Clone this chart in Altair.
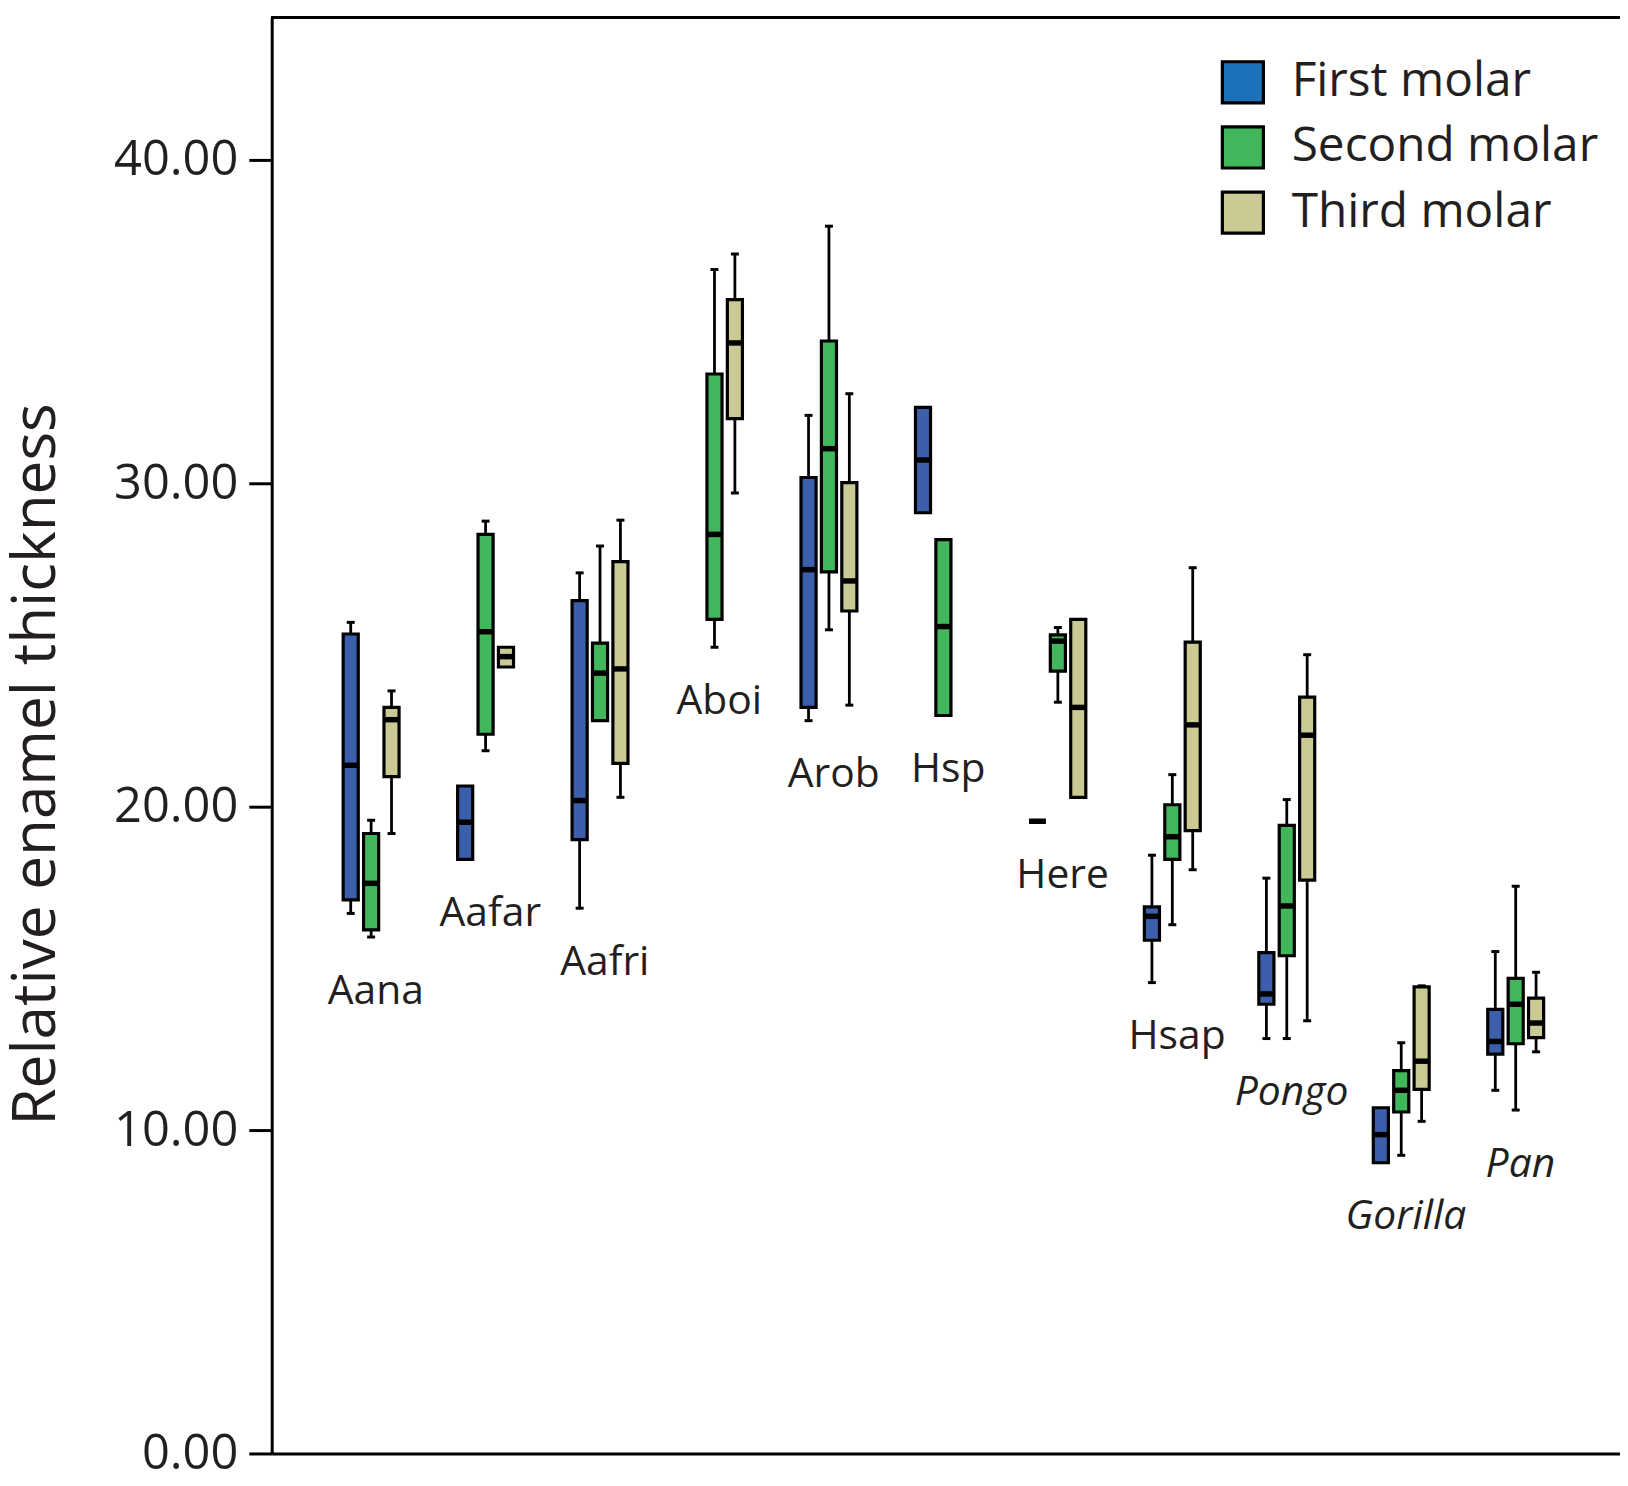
import altair as alt
import pandas as pd

taxa = ["Aana", "Aafar", "Aafri", "Aboi", "Arob", "Hsp", "Here", "Hsap", "Pongo", "Gorilla", "Pan"]
italic_taxa = ["Pongo", "Gorilla", "Pan"]
molars = ["First molar", "Second molar", "Third molar"]
box_colors = ["#3b5fab", "#41b65a", "#cbca95"]
legend_colors = ["#1b71ba", "#41b65a", "#cbca95"]

F, S, T = molars
row_taxon = ["Aana", "Aana", "Aana", "Aafar", "Aafar", "Aafar", "Aafri", "Aafri", "Aafri",
             "Aboi", "Aboi", "Arob", "Arob", "Arob", "Hsp", "Hsp", "Here", "Here", "Here",
             "Hsap", "Hsap", "Hsap", "Pongo", "Pongo", "Pongo", "Gorilla", "Gorilla", "Gorilla",
             "Pan", "Pan", "Pan"]
row_molar = [F, S, T, F, S, T, F, S, T,
             S, T, F, S, T, F, S, F, S, T,
             F, S, T, F, S, T, F, S, T,
             F, S, T]
whisker_low = [16.70, 15.97, 19.17, None, 21.73, None, 16.86, None, 20.29,
               24.93, 29.70, 22.66, 25.47, 23.14, None, None, None, 23.23, None,
               14.56, 16.35, 18.05, 12.83, 12.83, 13.38, None, 9.22, 10.27,
               11.23, 10.62, 12.42]
q1 = [17.12, 16.19, 20.93, 18.37, 22.24, 24.32, 18.98, 22.66, 21.34,
      25.79, 32.00, 23.07, 27.26, 26.05, 29.09, 22.82, 19.55, 24.19, 20.29,
      15.87, 18.37, 19.26, 13.89, 15.39, 17.73, 8.99, 10.56, 11.26,
      12.35, 12.67, 12.86]
median = [21.28, 17.63, 22.69, 19.52, 25.41, 24.64, 20.19, 24.13, 24.26,
          28.42, 34.34, 27.33, 31.07, 26.98, 30.72, 25.57, 19.55, 25.12, 23.07,
          16.61, 19.07, 22.53, 14.21, 16.93, 22.21, 9.86, 11.23, 12.13,
          12.74, 13.89, 13.31]
q3 = [25.34, 19.17, 23.07, 20.64, 28.42, 24.93, 26.37, 25.06, 27.58,
      33.38, 35.68, 30.18, 34.40, 30.02, 32.35, 28.26, 19.55, 25.31, 25.79,
      16.90, 20.06, 25.09, 15.49, 19.42, 23.39, 10.69, 11.84, 14.43,
      13.73, 14.69, 14.08]
whisker_high = [25.70, 19.58, 23.58, None, 28.83, None, 27.23, 28.06, 28.86,
                36.61, 37.09, 32.10, 37.95, 32.77, None, None, None, 25.54, None,
                18.50, 20.99, 27.39, 17.79, 20.22, 24.70, None, 12.70, 14.46,
                15.52, 17.54, 14.88]

df = pd.DataFrame({
    "taxon": row_taxon, "molar": row_molar, "low": whisker_low, "q1": q1,
    "median": median, "q3": q3, "high": whisker_high,
})

TXT = "#231f20"
FONT = "Open Sans"

yscale = alt.Scale(domain=[0, 44.4], nice=False, zero=True)
yaxis = alt.Axis(
    values=[0, 10, 20, 30, 40], format=".2f", title="Relative enamel thickness",
    grid=False, domainWidth=3, domainColor="black", tickSize=23, tickWidth=3,
    tickColor="black", labelFontSize=49, labelFont=FONT, labelColor=TXT, labelPadding=11,
    titleFontSize=60.5, titleFont=FONT, titleFontWeight="normal", titleColor=TXT,
    titleX=-218, titleY=750, titleAngle=270, titleBaseline="alphabetic", titleAlign="center",
)
xenc = alt.X(
    "taxon:N",
    scale=alt.Scale(domain=taxa, paddingInner=0, paddingOuter=0.39, align=0.47),
    axis=alt.Axis(labels=False, ticks=False, title=None, domainWidth=3, domainColor="black", grid=False),
)
xoff = alt.XOffset(
    "molar:N",
    scale=alt.Scale(domain=molars, range=[27, 88.5], paddingInner=0.26, paddingOuter=0.13),
)


def Y(field):
    return alt.Y(field, type="quantitative", scale=yscale, axis=yaxis)


base = alt.Chart(df)

top_line = base.mark_rule(color="black", strokeWidth=3).encode(y=alt.value(0))

lower_whisker = base.transform_filter("isValid(datum.low)").mark_rule(
    color="black", strokeWidth=2.8
).encode(x=xenc, xOffset=xoff, y=Y("low"), y2="q1")
upper_whisker = base.transform_filter("isValid(datum.high)").mark_rule(
    color="black", strokeWidth=2.8
).encode(x=xenc, xOffset=xoff, y=Y("q3"), y2="high")
low_cap = base.transform_filter("isValid(datum.low)").mark_tick(
    color="black", thickness=3, size=8, opacity=1
).encode(x=xenc, xOffset=xoff, y=Y("low"))
high_cap = base.transform_filter("isValid(datum.high)").mark_tick(
    color="black", thickness=3, size=8, opacity=1
).encode(x=xenc, xOffset=xoff, y=Y("high"))

boxes = base.mark_bar(stroke="black", strokeWidth=3.2, opacity=1).encode(
    x=xenc, xOffset=xoff, y=Y("q1"), y2="q3",
    fill=alt.Fill("molar:N", scale=alt.Scale(domain=molars, range=box_colors), legend=None),
)
medians = base.mark_tick(color="black", thickness=5.5, size=17, opacity=1).encode(
    x=xenc, xOffset=xoff, y=Y("median")
)

label_base = base.transform_calculate(
    bottom="isValid(datum.low) ? datum.low : datum.q1"
).transform_aggregate(ymin="min(bottom)", groupby=["taxon"])

labels_regular = label_base.transform_filter(
    alt.FieldOneOfPredicate(field="taxon", oneOf=[t for t in taxa if t not in italic_taxa])
).mark_text(font=FONT, fontSize=41, color=TXT, baseline="middle", align="center",
            dy=55, dx=5).encode(
    x=xenc, y=Y("ymin"), text="taxon:N"
)
labels_italic = label_base.transform_filter(
    alt.FieldOneOfPredicate(field="taxon", oneOf=italic_taxa)
).mark_text(font=FONT, fontSize=41, fontStyle="italic", color=TXT, baseline="middle",
            align="center", dy=55, dx=5).encode(
    x=xenc, y=Y("ymin"), text="taxon:N"
)

legend_layer = base.transform_filter("false").mark_square(
    stroke="black", strokeWidth=3, size=1700, filled=True, opacity=1
).encode(
    x=xenc, y=Y("median"),
    fill=alt.Fill(
        "molar:N", scale=alt.Scale(domain=molars, range=legend_colors),
        legend=alt.Legend(
            title=None, orient="none", legendX=952, legendY=41, symbolType="square",
            symbolSize=1700, symbolStrokeColor="black", symbolStrokeWidth=3.2,
            symbolOpacity=1, labelFont=FONT, labelFontSize=48, labelColor=TXT,
            labelOffset=25, rowPadding=9.5, padding=0, labelLimit=0,
        ),
    ),
)

chart = alt.layer(
    top_line, lower_whisker, upper_whisker, low_cap, high_cap, boxes, medians,
    labels_regular, labels_italic, legend_layer,
).resolve_scale(fill="independent").properties(
    width=1355, height=1443,
    autosize=alt.AutoSizeParams(type="none"),
    padding={"left": 265, "top": 6, "right": 0, "bottom": 21},
    background="white",
).configure_view(stroke=None)

chart.save("out.html", embed_options={"renderer": "svg", "actions": False})
